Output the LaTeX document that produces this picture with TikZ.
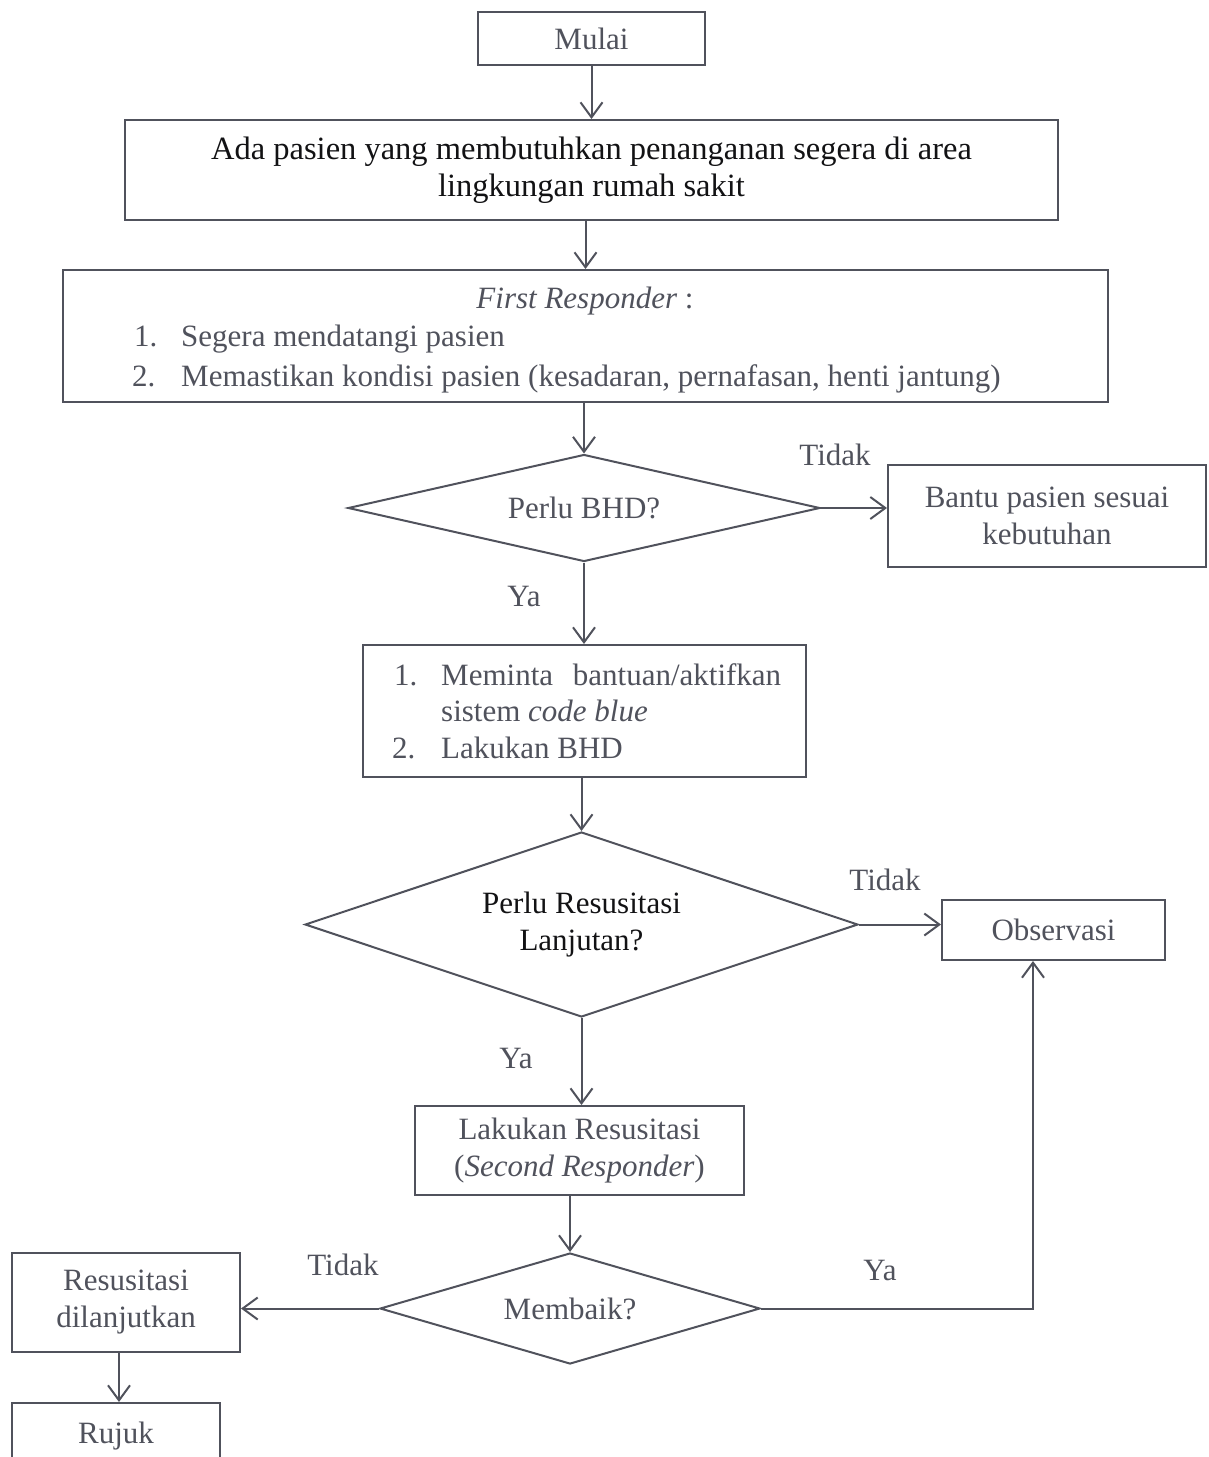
\documentclass[tikz,border=0pt]{standalone}
\usepackage{fontspec}
\setmainfont{Liberation Serif}
\usetikzlibrary{shapes.geometric,arrows.meta,calc}
\definecolor{ink}{RGB}{80,82,92}
\definecolor{deep}{RGB}{18,18,20}
\begin{document}
\begin{tikzpicture}[x=1pt,y=-1pt,
  every node/.style={font=\fontsize{31}{37}\selectfont, text=ink},
  box/.style={draw=ink, line width=2pt, rectangle, inner sep=0pt, align=center},
  choice/.style={draw=ink, line width=2pt, diamond, inner sep=0pt, align=center},
  arr/.style={draw=ink, line width=2pt, -{Straight Barb[length=15pt,width=22pt,line width=2pt]}},
  lbl/.style={inner sep=0pt},
  item/.style={anchor=base west, inner sep=0pt}]
\useasboundingbox (0,0) rectangle (1209,1457);
\clip (0,0) rectangle (1209,1457);

% process boxes
\node[box, minimum width=227pt, minimum height=53pt] (mulai) at (591.5,38.5) {\raisebox{-3pt}{Mulai}};
\node[box, minimum width=933pt, minimum height=100pt, text=deep,
      font=\fontsize{32.5}{37}\selectfont] (ada) at (591.5,170)
  {Ada pasien yang membutuhkan penanganan segera di area\\lingkungan rumah sakit};
\node[box, minimum width=1045pt, minimum height=132pt] (fr) at (585.5,336) {};
\node[lbl] (frtitle) at (585,301) {\textit{First Responder} :};
\node[item] (frn1) at (134,346) {1.};
\node[item] (frt1) at (181,346) {Segera mendatangi pasien};
\node[item] (frn2) at (132,386) {2.};
\node[item] (frt2) at (181,386) {Memastikan kondisi pasien (kesadaran, pernafasan, henti jantung)};

\node[choice, aspect=4.4, minimum width=472pt, minimum height=107pt] (d1) at (584,508) {Perlu BHD?};
\node[box, minimum width=318pt, minimum height=102pt] (bantu) at (1047,516)
  {Bantu pasien sesuai\\kebutuhan};

\node[box, minimum width=443pt, minimum height=132pt] (bhd) at (584.5,711) {};
\node[item] (bhdn1) at (394,685) {1.};
\node[item] (bhdt1) at (441,685) {\makebox[340pt][s]{Meminta bantuan/aktifkan}};
\node[item] (bhdt1b) at (441,721) {sistem \textit{code blue}};
\node[item] (bhdn2) at (392,758) {2.};
\node[item] (bhdt2) at (441,758) {Lakukan BHD};

\node[choice, aspect=3, minimum width=553pt, minimum height=185pt, text=deep] (d2) at (581.5,924.5)
  {Perlu Resusitasi\\Lanjutan?};
\node[box, minimum width=223pt, minimum height=60pt] (obs) at (1053.5,930) {Observasi};

\node[box, minimum width=329pt, minimum height=89pt] (lakres) at (579.5,1150.5)
  {Lakukan Resusitasi\\(\textit{Second Responder})};

\node[choice, aspect=3.4, minimum width=380pt, minimum height=111pt] (d3) at (570,1308.5) {Membaik?};
\node[box, minimum width=228pt, minimum height=99pt] (resdil) at (126,1302.5)
  {Resusitasi\\dilanjutkan};
\node[box, minimum width=208pt, minimum height=67pt] (rujuk) at (116,1436.5) {Rujuk};

% connectors
\draw[arr] (mulai.south) -- (mulai.south |- ada.north);
\draw[arr] (fr.north |- ada.south) -- (fr.north);
\draw[arr] (d1.north |- fr.south) -- (d1.north);
\draw[arr] (d1.east) -- (d1.east -| bantu.west);
\draw[arr] (d1.south) -- (d1.south |- bhd.north);
\draw[arr] (d2.north |- bhd.south) -- (d2.north);
\draw[arr] (d2.east) -- (d2.east -| obs.west);
\draw[arr] (d2.south) -- (d2.south |- lakres.north);
\draw[arr] (d3.north |- lakres.south) -- (d3.north);
\draw[arr] (d3.west) -- (d3.west -| resdil.east);
\draw[arr] ([xshift=-7pt]resdil.south) -- ([xshift=-7pt]resdil.south |- rujuk.north);
\draw[arr] (d3.east) -| ([xshift=-20.5pt]obs.south);

% branch labels
\node[lbl] (t1) at (835,455) {Tidak};
\node[lbl] (y1) at (524,596) {Ya};
\node[lbl] (t2) at (885,880) {Tidak};
\node[lbl] (y2) at (516,1058) {Ya};
\node[lbl] (t3) at (343,1265) {Tidak};
\node[lbl] (y3) at (880,1270) {Ya};
\end{tikzpicture}
\end{document}
